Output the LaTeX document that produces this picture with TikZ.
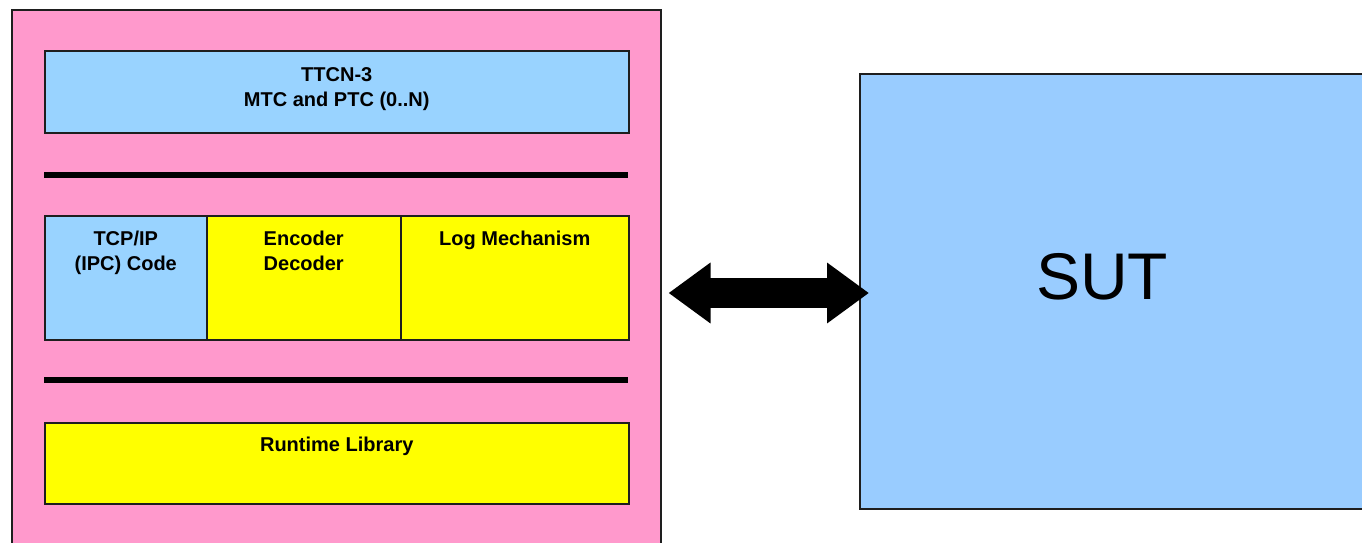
\documentclass[tikz,border=0pt]{standalone}
\usepackage{fontspec}
\setmainfont{Liberation Sans}
\usetikzlibrary{arrows.meta}
\definecolor{pinkbg}{HTML}{FF99CC}
\definecolor{lightblue}{HTML}{99D3FF}
\definecolor{sutblue}{HTML}{99CCFF}
\definecolor{yellowbox}{HTML}{FFFF00}
\definecolor{edge}{HTML}{1E1E1E}
\tikzset{
  block/.style={draw=edge, line width=1.5pt, rectangle, inner sep=0pt, anchor=north west},
  lbl/.style={anchor=north, inner sep=0pt, align=center,
    font=\fontsize{20}{25}\selectfont\bfseries},
  sepline/.style={line width=6pt, draw=black},
  bigarrow/.style={line width=30pt,
    {Triangle[length=42pt,width=58pt]}-{Triangle[length=42pt,width=58pt]}}
}
\begin{document}
\begin{tikzpicture}[x=1pt,y=-1pt]
\useasboundingbox (0,0) rectangle (1362,542);
\clip (0,0) rectangle (1362,542);
\fill[white] (0,0) rectangle (1362,542);

% test system container
\node[block, fill=pinkbg, minimum width=649pt, minimum height=560pt] (ts) at (11,9) {};

% TTCN-3 layer
\node[block, fill=lightblue, minimum width=584pt, minimum height=82pt] (ttcn) at (44,50) {};
\node[lbl] (ttcnlbl) at ([yshift=-17pt]ttcn.north) {TTCN-3\\MTC and PTC (0..N)};

\draw[sepline] (44,175) -- (628,175);

% middle layer
\node[block, fill=lightblue, minimum width=162pt, minimum height=124pt] (tcp) at (44,215) {};
\node[block, fill=yellowbox, minimum width=194pt, minimum height=124pt] (enc) at (206,215) {};
\node[block, fill=yellowbox, minimum width=228pt, minimum height=124pt] (log) at (400,215) {};
\node[lbl] (tcplbl) at ([yshift=-16pt]tcp.north) {TCP/IP\\(IPC) Code};
\node[lbl] (enclbl) at ([yshift=-16pt]enc.north) {Encoder\\Decoder};
\node[lbl] (loglbl) at ([yshift=-16pt]log.north) {Log Mechanism};

\draw[sepline] (44,380) -- (628,380);

% runtime layer
\node[block, fill=yellowbox, minimum width=584pt, minimum height=81pt] (rt) at (44,422) {};
\node[lbl] (rtlbl) at ([yshift=-15pt]rt.north) {Runtime Library};

% system under test
\node[block, fill=sutblue, minimum width=540pt, minimum height=435pt] (sut) at (859,73) {};
\node[font=\fontsize{66}{70}\selectfont, inner sep=0pt] (sutlbl) at (1102,277) {SUT};

% bidirectional link
\coordinate (la) at ([xshift=7pt]ts.east |- 0,293);
\coordinate (lb) at ([xshift=10pt]sut.west |- 0,293);
\draw[bigarrow] (la) -- (lb);
\end{tikzpicture}
\end{document}
